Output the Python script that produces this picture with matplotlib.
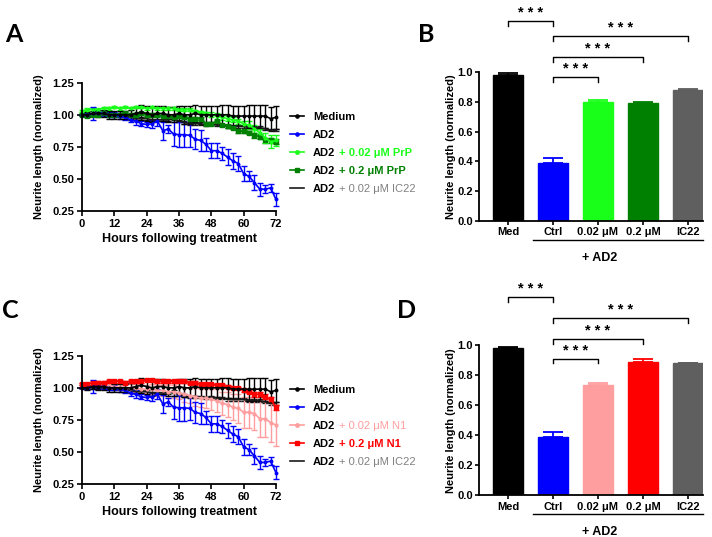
import matplotlib
matplotlib.use('Agg')
import matplotlib.pyplot as plt
from matplotlib.lines import Line2D
from matplotlib.transforms import blended_transform_factory
import numpy as np

plt.rcParams['font.family'] = ['Liberation Sans', 'DejaVu Sans']
plt.rcParams['font.weight'] = 'bold'
plt.rcParams['font.size'] = 8
plt.rcParams['axes.linewidth'] = 1.3

# %% time course data (normalized neurite length, every 2 h)
hours = np.arange(0, 73, 2)
medium = [1.00, 1.00, 1.01, 1.01, 1.01, 1.00, 1.00, 1.00, 1.00, 1.00, 1.01, 1.02, 1.01,
          1.00, 1.01, 1.01, 1.00, 1.00, 1.01, 1.00, 1.00, 1.01, 1.00, 1.00, 1.00, 1.00,
          1.00, 1.00, 0.99, 0.99, 0.99, 0.99, 0.99, 0.99, 0.99, 0.97, 0.98]
medium_err = [0.00, 0.02, 0.02, 0.03, 0.03, 0.03, 0.03, 0.03, 0.03, 0.04, 0.05, 0.06, 0.06,
              0.06, 0.06, 0.06, 0.06, 0.06, 0.06, 0.07, 0.07, 0.07, 0.07, 0.07, 0.07, 0.07,
              0.08, 0.08, 0.08, 0.08, 0.08, 0.09, 0.09, 0.09, 0.09, 0.09, 0.09]
ad2 = [1.00, 1.00, 1.01, 1.01, 1.01, 1.00, 1.00, 0.99, 0.98, 0.96, 0.95, 0.93, 0.925,
       0.93, 0.95, 0.875, 0.89, 0.85, 0.845, 0.845, 0.84, 0.81, 0.80, 0.77, 0.72, 0.72,
       0.70, 0.67, 0.64, 0.62, 0.54, 0.52, 0.47, 0.42, 0.42, 0.43, 0.34]
ad2_err = [0.00, 0.01, 0.05, 0.01, 0.02, 0.02, 0.02, 0.02, 0.02, 0.02, 0.03, 0.02, 0.02,
           0.03, 0.04, 0.07, 0.03, 0.09, 0.10, 0.10, 0.09, 0.08, 0.08, 0.05, 0.06, 0.06,
           0.05, 0.06, 0.06, 0.06, 0.06, 0.04, 0.06, 0.05, 0.03, 0.03, 0.05]
ic22 = [1.00, 1.00, 1.00, 1.00, 1.00, 1.00, 0.99, 0.99, 0.99, 0.98, 0.97, 0.97, 0.97,
        0.96, 0.96, 0.96, 0.96, 0.97, 0.95, 0.94, 0.93, 0.93, 0.93, 0.92, 0.93, 0.92,
        0.92, 0.91, 0.91, 0.91, 0.91, 0.90, 0.90, 0.90, 0.89, 0.88, 0.88]
ic22_err = [0.00, 0.01, 0.01, 0.01, 0.01, 0.01, 0.01, 0.01, 0.01, 0.01, 0.01, 0.01, 0.01,
            0.01, 0.01, 0.01, 0.01, 0.01, 0.01, 0.01, 0.01, 0.01, 0.01, 0.01, 0.01, 0.01,
            0.01, 0.01, 0.01, 0.01, 0.01, 0.01, 0.01, 0.01, 0.01, 0.01, 0.01]
prp_002 = [1.03, 1.04, 1.04, 1.04, 1.05, 1.05, 1.06, 1.05, 1.06, 1.05, 1.06, 1.06, 1.05,
           1.06, 1.05, 1.05, 1.05, 1.05, 1.04, 1.04, 1.04, 1.03, 1.02, 1.01, 1.00, 0.99,
           0.98, 0.97, 0.96, 0.95, 0.93, 0.92, 0.89, 0.86, 0.82, 0.79, 0.80]
prp_002_err = [0.01, 0.01, 0.01, 0.01, 0.01, 0.01, 0.01, 0.01, 0.01, 0.01, 0.01, 0.01, 0.01,
               0.01, 0.01, 0.01, 0.01, 0.01, 0.01, 0.01, 0.01, 0.01, 0.01, 0.01, 0.02, 0.02,
               0.02, 0.02, 0.02, 0.02, 0.02, 0.03, 0.03, 0.03, 0.04, 0.05, 0.04]
prp_02 = [1.00, 0.99, 1.00, 1.00, 1.01, 1.00, 1.00, 1.00, 1.01, 1.00, 1.00, 1.01, 1.00,
          1.00, 1.00, 0.99, 0.99, 0.98, 0.99, 0.98, 0.97, 0.97, 0.97, 0.93, 0.93, 0.95,
          0.92, 0.91, 0.90, 0.87, 0.87, 0.86, 0.84, 0.83, 0.80, 0.80, 0.79]
prp_02_err = [0.01, 0.01, 0.01, 0.01, 0.01, 0.01, 0.01, 0.01, 0.01, 0.01, 0.01, 0.01, 0.01,
              0.01, 0.01, 0.01, 0.01, 0.01, 0.01, 0.01, 0.01, 0.01, 0.01, 0.01, 0.01, 0.01,
              0.01, 0.01, 0.01, 0.01, 0.01, 0.01, 0.02, 0.02, 0.02, 0.02, 0.02]
n1_002 = [1.03, 1.03, 1.03, 1.02, 1.02, 1.02, 1.01, 1.01, 1.00, 1.00, 1.00, 0.99, 0.99,
          0.99, 0.98, 0.98, 0.97, 0.97, 0.96, 0.95, 0.94, 0.93, 0.92, 0.92, 0.91, 0.90,
          0.88, 0.87, 0.85, 0.84, 0.81, 0.81, 0.80, 0.76, 0.76, 0.73, 0.71]
n1_002_err = [0.01, 0.01, 0.01, 0.01, 0.01, 0.02, 0.02, 0.02, 0.02, 0.03, 0.03, 0.03, 0.03,
              0.04, 0.04, 0.04, 0.05, 0.05, 0.05, 0.06, 0.06, 0.07, 0.07, 0.08, 0.08, 0.09,
              0.09, 0.10, 0.10, 0.11, 0.12, 0.12, 0.13, 0.14, 0.14, 0.15, 0.16]
n1_02 = [1.03, 1.03, 1.04, 1.04, 1.04, 1.05, 1.05, 1.05, 1.04, 1.05, 1.05, 1.05, 1.06,
         1.06, 1.05, 1.05, 1.05, 1.05, 1.05, 1.05, 1.04, 1.04, 1.03, 1.03, 1.03, 1.02,
         1.02, 1.01, 1.00, 1.00, 0.98, 0.97, 0.95, 0.95, 0.93, 0.91, 0.85]
n1_02_err = [0.01, 0.01, 0.01, 0.01, 0.01, 0.01, 0.01, 0.01, 0.01, 0.01, 0.01, 0.01, 0.01,
             0.01, 0.01, 0.01, 0.01, 0.01, 0.01, 0.01, 0.01, 0.01, 0.01, 0.01, 0.01, 0.01,
             0.01, 0.01, 0.01, 0.01, 0.01, 0.01, 0.02, 0.02, 0.02, 0.02, 0.02]

# %% endpoint bars
bar_labels = ['Med', 'Ctrl', '0.02 μM', '0.2 μM', 'IC22']
bars_prp = [0.98, 0.39, 0.80, 0.79, 0.88]
bars_prp_err = [0.01, 0.03, 0.015, 0.01, 0.005]
bars_n1 = [0.98, 0.39, 0.735, 0.89, 0.88]
bars_n1_err = [0.01, 0.03, 0.015, 0.02, 0.005]

c_blue = '#0000FF'
c_lime = '#1AFF1A'
c_green = '#008000'
c_gray = '#5F5F5F'
c_pink = '#FF9E9E'
c_red = '#FF0000'

W, H = 712, 537
fig = plt.figure(figsize=(W / 100, H / 100), dpi=100)


def px_axes(left, top, right, bottom):
    return fig.add_axes([left / W, 1 - bottom / H, (right - left) / W, (bottom - top) / H])


def style(ax, length=3.5, pad=2):
    ax.spines['top'].set_visible(False)
    ax.spines['right'].set_visible(False)
    ax.tick_params(direction='out', length=length, width=1.2, labelsize=8, pad=pad)


def line_panel(ax, groups, handles):
    for y, err, col, mk, ms in groups:
        ax.errorbar(hours, y, yerr=err, color=col, marker=mk, ms=ms, lw=1.2,
                    elinewidth=1, capsize=2, capthick=1, clip_on=False)
    ax.set_xlim(0, 72)
    ax.set_ylim(0.25, 1.25)
    ax.set_xticks(np.arange(0, 73, 12))
    ax.set_yticks([0.25, 0.5, 0.75, 1.0, 1.25])
    ax.set_yticklabels(['%.2f' % v for v in [0.25, 0.5, 0.75, 1.0, 1.25]])
    ax.set_xlabel('Hours following treatment', fontsize=9, fontweight='bold', labelpad=3)
    ax.set_ylabel('Neurite length (normalized)', fontsize=8, fontweight='bold', labelpad=6)
    style(ax)
    leg = ax.legend(handles, ['Medium', 'AD2', 'AD2', 'AD2', 'AD2'], loc='upper left',
                    bbox_to_anchor=(1.02, 0.85), frameon=False, handlelength=1.3,
                    handletextpad=0.8, labelspacing=0.72, prop={'weight': 'bold', 'size': 8})
    return leg


def bar_panel(ax, vals, errs, cols, sig_y):
    x = np.arange(len(vals))
    ax.bar(x, vals, width=0.667, color=cols, edgecolor=cols)
    for xi, v, e, c in zip(x, vals, errs, cols):
        ax.errorbar(xi, v, yerr=[[0], [e]], color=c, capsize=7, elinewidth=1.3, capthick=1.3)
    ax.set_xlim(-0.644, 4.333)
    ax.set_ylim(0, 1.0)
    ax.set_yticks([0, 0.2, 0.4, 0.6, 0.8, 1.0])
    ax.set_yticklabels(['0.0', '0.2', '0.4', '0.6', '0.8', '1.0'])
    ax.set_xticks(x)
    ax.set_xticklabels(bar_labels)
    ax.set_ylabel('Neurite length (normalized)', fontsize=8, fontweight='bold', labelpad=1)
    style(ax, length=3, pad=1.5)
    # significance brackets, Ctrl vs each
    pairs = [(0, 1), (1, 2), (1, 3), (1, 4)]
    for (a, b), y in zip(pairs, sig_y):
        ax.plot([a, a, b, b], [y - 0.03, y, y, y - 0.03], color='k', lw=1, clip_on=False)
        ax.text((a + b) / 2, y + 0.008, '* * *', ha='center', va='bottom', fontsize=10.5,
                fontweight='bold')
    tr = blended_transform_factory(ax.transData, ax.transAxes)
    ax.plot([0.556, 4.333], [-0.125, -0.125], color='k', lw=1, transform=tr, clip_on=False)
    ax.text(2.04, -0.245, '+ AD2', transform=tr, ha='center', va='center', fontsize=9,
            fontweight='bold')


# %% panel A
axA = px_axes(82, 82.7, 276, 211)
hA = [Line2D([], [], color='k', marker='o', ms=2.3, lw=1.2),
      Line2D([], [], color=c_blue, marker='o', ms=2.3, lw=1.2),
      Line2D([], [], color=c_lime, marker='o', ms=2.5, lw=1.2),
      Line2D([], [], color=c_green, marker='s', ms=3.5, lw=1.2),
      Line2D([], [], color='#1A1A1A', lw=1.2)]
legA = line_panel(axA, [(ic22, ic22_err, '#1A1A1A', None, 0),
                        (prp_02, prp_02_err, c_green, 's', 3),
                        (prp_002, prp_002_err, c_lime, 'o', 2),
                        (ad2, ad2_err, c_blue, 'o', 1.8),
                        (medium, medium_err, 'k', 'o', 1.8)], hA)

# %% panel C
axC = px_axes(82, 355.7, 276, 484.3)
hC = [Line2D([], [], color='k', marker='o', ms=2.3, lw=1.2),
      Line2D([], [], color=c_blue, marker='o', ms=2.3, lw=1.2),
      Line2D([], [], color=c_pink, marker='o', ms=2.5, lw=1.2),
      Line2D([], [], color=c_red, marker='s', ms=3.5, lw=1.2),
      Line2D([], [], color='#1A1A1A', lw=1.2)]
legC = line_panel(axC, [(ic22, ic22_err, '#1A1A1A', None, 0),
                        (n1_002, n1_002_err, c_pink, 'o', 2),
                        (n1_02, n1_02_err, c_red, 's', 3),
                        (ad2, ad2_err, c_blue, 'o', 1.8),
                        (medium, medium_err, 'k', 'o', 1.8)], hC)

# %% panels B and D
axB = px_axes(479, 72, 703, 221)
bar_panel(axB, bars_prp, bars_prp_err, ['k', c_blue, c_lime, c_green, c_gray],
          [1.34, 0.965, 1.10, 1.24])
axD = px_axes(479, 345.3, 703, 495.3)
bar_panel(axD, bars_n1, bars_n1_err, ['k', c_blue, c_pink, c_red, c_gray],
          [1.32, 0.91, 1.04, 1.18])

# %% panel letters
for lab, x, y in [('A', 14, 35), ('B', 426, 35), ('C', 10, 311), ('D', 407, 311)]:
    fig.text(x / W, 1 - y / H, lab, ha='center', va='center', fontsize=18,
             fontweight='bold', family='Lato')

# %% coloured parts of the legend labels
fig.canvas.draw()
suffix = {legA: [('+ 0.02 μM PrP', c_lime, 'bold'), ('+ 0.2 μM PrP', c_green, 'bold'),
                 ('+ 0.02 μM IC22', '#808080', 'normal')],
          legC: [('+ 0.02 μM N1', c_pink, 'normal'), ('+ 0.2 μM N1', c_red, 'bold'),
                 ('+ 0.02 μM IC22', '#808080', 'normal')]}
for leg, parts in suffix.items():
    texts = leg.get_texts()[2:]
    for t, (s, col, wt) in zip(texts, parts):
        bb = t.get_window_extent()
        fig.text((bb.x1 + 3) / W, bb.y0 / H, s, color=col, fontweight=wt, fontsize=8,
                 ha='left', va='bottom')

fig.savefig('out.png', dpi=100)
